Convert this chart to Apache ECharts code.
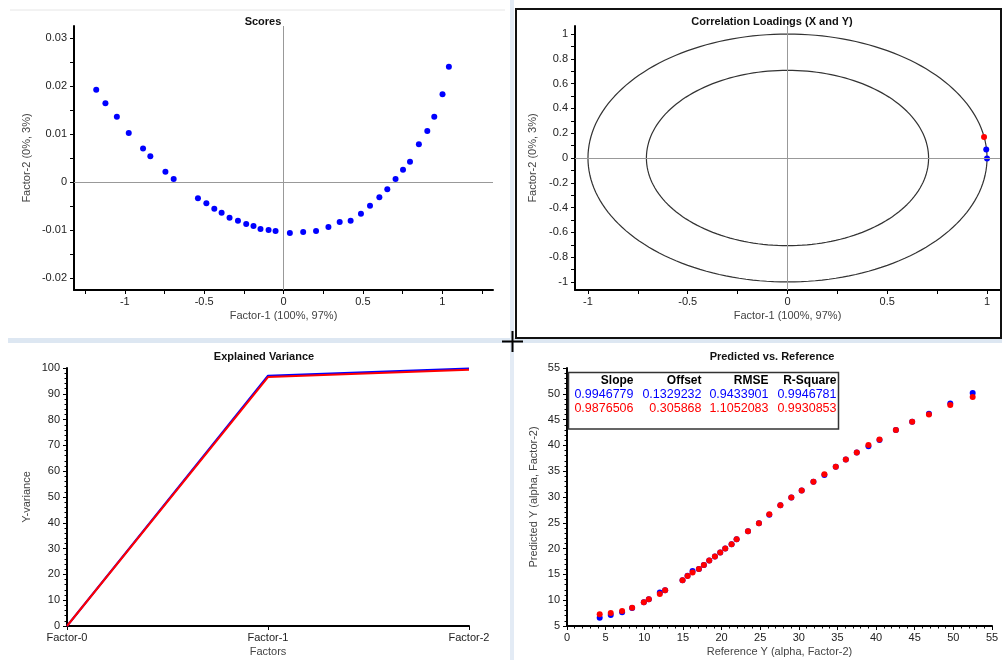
<!DOCTYPE html>
<html>
<head>
<meta charset="utf-8">
<script src="https://cdn.jsdelivr.net/npm/echarts@6/dist/echarts.min.js"></script>
<style>
html,body{margin:0;padding:0;background:#fff;}
#chart{width:1002px;height:660px;}
</style>
</head>
<body>
<div id="chart"></div>
<script>
// ---------- DATA ----------
const scoresX = [-1.180,-1.122,-1.050,-0.975,-0.885,-0.839,-0.744,-0.692,-0.539,-0.486,-0.436,-0.390,-0.340,-0.287,-0.235,-0.189,-0.145,-0.094,-0.050,0.040,0.124,0.205,0.283,0.354,0.423,0.488,0.545,0.604,0.654,0.706,0.753,0.797,0.853,0.906,0.950,1.002,1.042];
const scoresY = [0.0192,0.0164,0.0136,0.0102,0.0070,0.00535,0.00215,0.00062,-0.0034,-0.00444,-0.00556,-0.00639,-0.00743,-0.00806,-0.00875,-0.00917,-0.00979,-0.0100,-0.01021,-0.01063,-0.01042,-0.01021,-0.00938,-0.00833,-0.00806,-0.0066,-0.00493,-0.00319,-0.00153,0.00062,0.00257,0.00424,0.00785,0.01063,0.01361,0.01826,0.02403];
const scoresXLabels = [-1,-0.5,0,0.5,1];
const scoresYLabels = [-0.02,-0.01,0,0.01,0.02,0.03];

const loadingsXvarX = [0.996, 1.0];
const loadingsXvarY = [0.068, -0.005];
const loadingsYvarX = [0.985];
const loadingsYvarY = [0.17];
const circleRadii = [1, 0.7071];
const loadXLabels = [-1,-0.5,0,0.5,1];
const loadYLabels = [-1,-0.8,-0.6,-0.4,-0.2,0,0.2,0.4,0.6,0.8,1];

const factors = ['Factor-0','Factor-1','Factor-2'];
const varCal = [0, 97.0, 99.8];
const varVal = [0, 96.5, 99.3];

const refY = [4.23,5.66,7.13,8.43,9.94,10.59,12.01,12.70,14.95,15.60,16.25,17.07,17.71,18.41,19.14,19.83,20.48,21.30,21.95,23.42,24.84,26.18,27.61,29.03,30.37,31.89,33.31,34.78,36.08,37.50,39.01,40.44,42.56,44.67,46.84,49.60,52.50];
const predCal = [6.60,7.13,7.65,8.50,9.60,10.17,11.47,11.95,13.86,14.75,15.67,16.06,16.84,17.68,18.45,19.23,20.01,20.85,21.82,23.37,24.92,26.55,28.42,29.90,31.26,32.94,34.25,35.85,37.28,38.64,39.85,41.05,42.97,44.59,46.15,48.14,50.15];
const predVal = [7.26,7.52,7.91,8.56,9.59,10.17,11.21,11.92,13.86,14.70,15.35,16.06,16.84,17.68,18.45,19.23,20.01,20.85,21.82,23.37,24.92,26.67,28.42,29.90,31.26,32.94,34.43,35.85,37.28,38.64,40.06,41.16,42.97,44.59,46.01,47.82,49.37];

const statHeaders = ['Slope','Offset','RMSE','R-Square'];
const statCal = ['0.9946779','0.1329232','0.9433901','0.9946781'];
const statVal = ['0.9876506','0.305868','1.1052083','0.9930853'];

// ---------- HELPERS ----------
const FONT = "'Liberation Sans', Arial, sans-serif";
function steps(a, b, s) {
  const out = [];
  const n = Math.round((b - a) / s);
  for (let i = 0; i <= n; i++) out.push(+(a + i * s).toFixed(6));
  return out;
}
function pairs(xs, ys) { return xs.map((x, i) => [x, ys[i]]); }
function circlePts(r) {
  const pts = [];
  for (let a = 0; a <= 360; a += 2) {
    const t = a * Math.PI / 180;
    pts.push([r * Math.cos(t), r * Math.sin(t)]);
  }
  return pts;
}

const axisLineStyle = { show: true, onZero: false, lineStyle: { color: '#000', width: 2 } };
const tickStyle = { show: true, length: 4, lineStyle: { color: '#000', width: 1 } };
const labelStyle = { color: '#222', fontSize: 11, fontFamily: FONT };
const nameStyle = { color: '#444', fontSize: 11, fontFamily: FONT };

function valAxis(opts) {
  return Object.assign({
    type: 'value',
    axisLine: axisLineStyle,
    splitLine: { show: false },
    nameLocation: 'middle',
    nameTextStyle: nameStyle
  }, opts);
}

// ---------- GRAPHIC ----------
const graphic = [
  { type: 'line', shape: { x1: 10, y1: 10, x2: 505, y2: 10 }, style: { stroke: '#e6e6e6', lineWidth: 1 }, z: -1 },
  { type: 'rect', shape: { x: 8, y: 338, width: 994, height: 5 }, style: { fill: '#dde7f2' }, z: -1 },
  { type: 'rect', shape: { x: 510, y: 0, width: 4, height: 660 }, style: { fill: '#e3ebf5' }, z: -1 },
  { type: 'rect', shape: { x: 516, y: 9, width: 485, height: 329 }, style: { fill: 'none', stroke: '#111', lineWidth: 2 }, z: 5 },
  { type: 'line', shape: { x1: 502, y1: 341.5, x2: 523, y2: 341.5 }, style: { stroke: '#000', lineWidth: 2 }, z: 6 },
  { type: 'line', shape: { x1: 512.5, y1: 331, x2: 512.5, y2: 352 }, style: { stroke: '#000', lineWidth: 2 }, z: 6 },
  { type: 'rect', shape: { x: 568.5, y: 372.5, width: 270, height: 56.5 }, style: { fill: '#fff', stroke: '#333', lineWidth: 1.5 }, z: 10 }
];
const colRight = [633.5, 701.5, 768.5, 836.5];
const rowY = [381, 395, 409];
statHeaders.forEach((t, i) => graphic.push({ type: 'text', z: 11, style: { text: t, x: colRight[i], y: rowY[0], align: 'right', verticalAlign: 'middle', fill: '#000', font: "bold 12px " + FONT } }));
statCal.forEach((t, i) => graphic.push({ type: 'text', z: 11, style: { text: t, x: colRight[i], y: rowY[1], align: 'right', verticalAlign: 'middle', fill: '#0000ff', font: "12.5px " + FONT } }));
statVal.forEach((t, i) => graphic.push({ type: 'text', z: 11, style: { text: t, x: colRight[i], y: rowY[2], align: 'right', verticalAlign: 'middle', fill: '#ff0000', font: "12.5px " + FONT } }));

// ---------- OPTION ----------
const titleStyle = { color: '#111', fontSize: 11, fontWeight: 'bold', fontFamily: FONT };
const dot = (c) => ({ color: c, opacity: 1 });
const option = {
  animation: false,
  backgroundColor: '#fff',
  title: [
    { text: 'Scores', left: 258, top: 11, textAlign: 'center', textStyle: titleStyle },
    { text: 'Correlation Loadings (X and Y)', left: 767, top: 11, textAlign: 'center', textStyle: titleStyle },
    { text: 'Explained Variance', left: 259, top: 346, textAlign: 'center', textStyle: titleStyle },
    { text: 'Predicted vs. Reference', left: 767, top: 346, textAlign: 'center', textStyle: titleStyle }
  ],
  grid: [
    { left: 74, top: 26, width: 419, height: 264 },
    { left: 575, top: 26, width: 425, height: 264 },
    { left: 67, top: 368, width: 402, height: 258 },
    { left: 567, top: 368, width: 425, height: 258 }
  ],
  xAxis: [
    valAxis({ gridIndex: 0, min: -1.32, max: 1.32, name: 'Factor-1 (100%, 97%)', nameGap: 20,
      axisTick: Object.assign({ customValues: steps(-1.25, 1.25, 0.25) }, tickStyle),
      axisLabel: Object.assign({ customValues: scoresXLabels, margin: 6 }, labelStyle) }),
    valAxis({ gridIndex: 1, min: -1.065, max: 1.065, name: 'Factor-1 (100%, 97%)', nameGap: 20,
      axisTick: Object.assign({ customValues: steps(-1, 1, 0.25) }, tickStyle),
      axisLabel: Object.assign({ customValues: loadXLabels, margin: 6 }, labelStyle) }),
    { type: 'category', gridIndex: 2, data: factors, boundaryGap: false,
      name: 'Factors', nameLocation: 'middle', nameGap: 20, nameTextStyle: nameStyle,
      axisLine: axisLineStyle, axisTick: tickStyle,
      axisLabel: Object.assign({ margin: 6 }, labelStyle), splitLine: { show: false } },
    valAxis({ gridIndex: 3, min: 0, max: 55, interval: 5, name: 'Reference Y (alpha, Factor-2)', nameGap: 20,
      axisTick: tickStyle,
      minorTick: { show: true, splitNumber: 5, length: 2.5, lineStyle: { color: '#000' } },
      axisLabel: Object.assign({ margin: 6 }, labelStyle) })
  ],
  yAxis: [
    valAxis({ gridIndex: 0, min: -0.0225, max: 0.0325, name: 'Factor-2 (0%, 3%)', nameGap: 42,
      axisTick: Object.assign({ customValues: steps(-0.02, 0.03, 0.005) }, tickStyle),
      axisLabel: Object.assign({ customValues: scoresYLabels, margin: 7 }, labelStyle) }),
    valAxis({ gridIndex: 1, min: -1.065, max: 1.065, name: 'Factor-2 (0%, 3%)', nameGap: 37,
      axisTick: Object.assign({ customValues: steps(-1, 1, 0.1) }, tickStyle),
      axisLabel: Object.assign({ customValues: loadYLabels, margin: 7 }, labelStyle) }),
    valAxis({ gridIndex: 2, min: 0, max: 100, interval: 10, name: 'Y-variance', nameGap: 35,
      axisTick: tickStyle,
      minorTick: { show: true, splitNumber: 5, length: 2.5, lineStyle: { color: '#000' } },
      axisLabel: Object.assign({ margin: 7 }, labelStyle) }),
    valAxis({ gridIndex: 3, min: 5, max: 55, interval: 5, name: 'Predicted Y (alpha, Factor-2)', nameGap: 28,
      axisTick: tickStyle,
      minorTick: { show: true, splitNumber: 5, length: 2.5, lineStyle: { color: '#000' } },
      axisLabel: Object.assign({ margin: 7 }, labelStyle) })
  ],
  series: [
    { type: 'scatter', xAxisIndex: 0, yAxisIndex: 0, data: pairs(scoresX, scoresY),
      symbolSize: 6, itemStyle: dot('#0000ff'),
      markLine: { silent: true, symbol: 'none', label: { show: false },
        lineStyle: { color: '#999', width: 1, type: 'solid' },
        data: [{ xAxis: 0 }, { yAxis: 0 }] } },
    ...circleRadii.map((r, i) => ({ type: 'line', xAxisIndex: 1, yAxisIndex: 1, data: circlePts(r),
      showSymbol: false, lineStyle: { color: '#333', width: 1.2 }, z: 2,
      markLine: i === 0 ? { silent: true, symbol: 'none', label: { show: false },
        lineStyle: { color: '#999', width: 1, type: 'solid' },
        data: [{ xAxis: 0 }, { yAxis: 0 }] } : undefined })),
    { type: 'scatter', xAxisIndex: 1, yAxisIndex: 1, data: pairs(loadingsXvarX, loadingsXvarY),
      symbolSize: 6, itemStyle: dot('#0000ff'), z: 3 },
    { type: 'scatter', xAxisIndex: 1, yAxisIndex: 1, data: pairs(loadingsYvarX, loadingsYvarY),
      symbolSize: 6, itemStyle: dot('#ff0000'), z: 3 },
    { type: 'line', xAxisIndex: 2, yAxisIndex: 2, data: varCal, showSymbol: false,
      lineStyle: { color: '#0000ff', width: 2 } },
    { type: 'line', xAxisIndex: 2, yAxisIndex: 2, data: varVal, showSymbol: false,
      lineStyle: { color: '#ff0000', width: 2 } },
    { type: 'scatter', xAxisIndex: 3, yAxisIndex: 3, data: pairs(refY, predCal),
      symbolSize: 6, itemStyle: dot('#0000ff') },
    { type: 'scatter', xAxisIndex: 3, yAxisIndex: 3, data: pairs(refY, predVal),
      symbolSize: 6, itemStyle: dot('#ff0000') }
  ],
  graphic: graphic
};

const chart = echarts.init(document.getElementById('chart'), null, { renderer: 'canvas' });
chart.setOption(option);
</script>
</body>
</html>
